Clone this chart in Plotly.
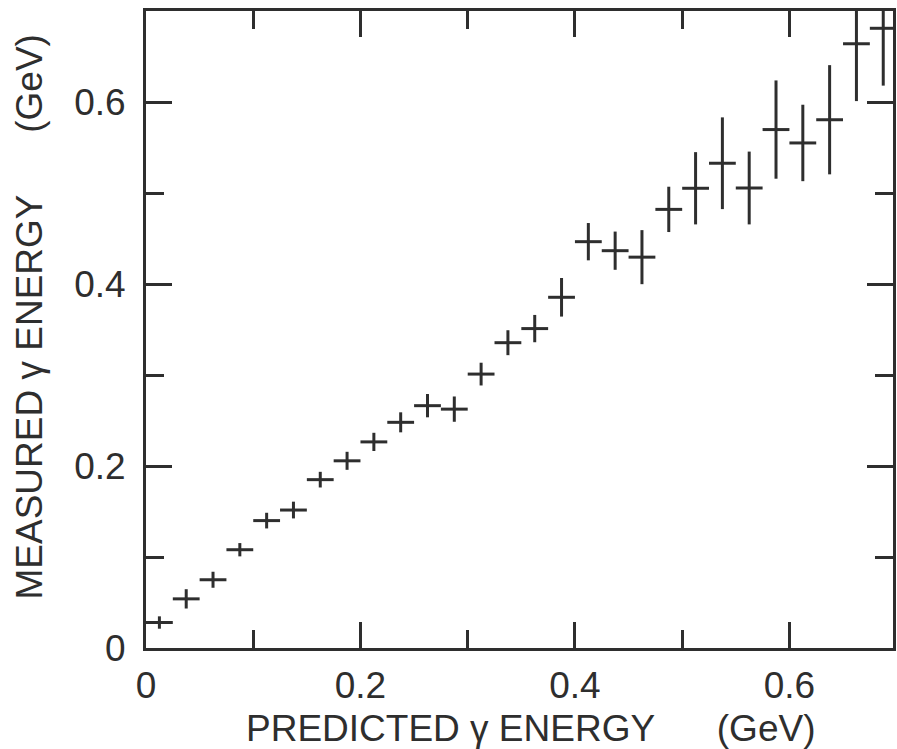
import plotly.graph_objects as go

# Data
predicted = [0.0125, 0.0375, 0.0625, 0.0875, 0.1125, 0.1375, 0.1625, 0.1875,
             0.2125, 0.2375, 0.2625, 0.2875, 0.3125, 0.3375, 0.3625, 0.3875,
             0.4125, 0.4375, 0.4625, 0.4875, 0.5125, 0.5375, 0.5625, 0.5875,
             0.6125, 0.6375, 0.6625, 0.6875]
measured = [0.028, 0.054, 0.075, 0.108, 0.140, 0.1516, 0.185, 0.2057,
            0.2265, 0.248, 0.2663, 0.2625, 0.301, 0.3355, 0.351, 0.3854,
            0.4465, 0.4366, 0.4295, 0.482, 0.5052, 0.5327, 0.5055, 0.5697,
            0.555, 0.5805, 0.664, 0.681]
x_err = [0.0125] * 28
y_err = [0.0068, 0.0106, 0.0088, 0.0073, 0.0086, 0.0092, 0.0086, 0.0099,
         0.0100, 0.0110, 0.0128, 0.0139, 0.0125, 0.0137, 0.0150, 0.0212,
         0.0205, 0.0210, 0.0297, 0.0249, 0.0397, 0.0504, 0.0400, 0.0540,
         0.0420, 0.0600, 0.0630, 0.0630]

major_ticks = [0, 0.2, 0.4, 0.6]
major_labels = ["0", "0.2", "0.4", "0.6"]
minor_ticks = [0.1, 0.3, 0.5]

INK = "#2e2e2e"
FONT = "Liberation Sans"
NB = "\u00a0"

fig = go.Figure(
    go.Scatter(
        x=predicted, y=measured, mode="markers",
        marker=dict(size=1, color="rgba(0,0,0,0)"),
        error_x=dict(type="data", array=x_err, thickness=3, width=0, color=INK),
        error_y=dict(type="data", array=y_err, thickness=3, width=0, color=INK),
        showlegend=False, hoverinfo="skip",
    )
)

axis_common = dict(
    showline=True, linewidth=3, linecolor=INK, mirror="ticks",
    ticks="inside", ticklen=26, tickwidth=3, tickcolor=INK,
    tickvals=major_ticks, ticktext=major_labels,
    minor=dict(tickvals=minor_ticks, ticks="inside", ticklen=18, tickwidth=3, tickcolor=INK),
    showgrid=False, zeroline=False,
    tickfont=dict(family=FONT, size=37, color=INK),
)

fig.update_xaxes(range=[0, 0.6966], ticklabelstandoff=3, **axis_common)
fig.update_yaxes(range=[0, 0.70], ticklabelstandoff=10, **axis_common)

fig.update_layout(
    width=897, height=749,
    margin=dict(l=146, r=1, t=11, b=101),
    paper_bgcolor="white", plot_bgcolor="white",
    annotations=[
        dict(text="PREDICTED γ ENERGY" + NB * 6 + "(GeV)",
             xref="paper", yref="paper", x=0.515, y=-0.1256,
             xanchor="center", yanchor="middle", showarrow=False,
             font=dict(family=FONT, size=37, color=INK)),
        dict(text="MEASURED γ ENERGY" + NB * 6 + "(GeV)",
             xref="paper", yref="paper", x=-0.156, y=0.5196,
             xanchor="center", yanchor="middle", showarrow=False, textangle=-90,
             font=dict(family=FONT, size=37, color=INK)),
    ],
)

fig.write_html("out.html")
